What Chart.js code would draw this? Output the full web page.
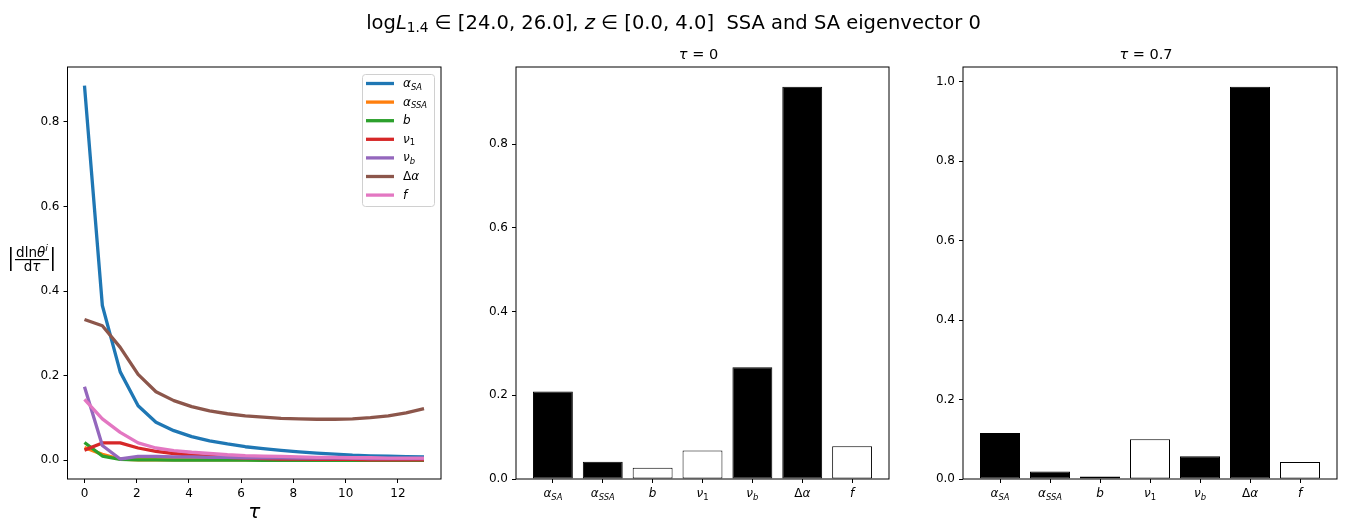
<!DOCTYPE html>
<html>
<head>
<meta charset="utf-8">
<script src="https://cdn.jsdelivr.net/npm/chart.js@4.4.0/dist/chart.umd.min.js"></script>
<style>
  body { margin: 0; background: #fff; }
  #fig { position: relative; width: 1347px; height: 522px; overflow: hidden; font-family: 'DejaVu Sans'; color: #000; }
  #fig canvas { position: absolute; left: 0; top: 0; }
  .t { position: absolute; white-space: nowrap; text-align: center; line-height: normal; }
  .t sub { font-size: 70%; vertical-align: -0.25em; line-height: 0; }
</style>
</head>
<body>
<div id="fig">
  <canvas id="lineChart" width="1347" height="522"></canvas>
  <canvas id="barTau0" width="1347" height="522"></canvas>
  <canvas id="barTau07" width="1347" height="522"></canvas>
  <div class="t" style="left:0;width:1347px;top:11px;font-size:19.5px">log<i>L</i><sub>1.4</sub> ∈ [24.0, 26.0], <i>z</i> ∈ [0.0, 4.0]&nbsp; SSA and SA eigenvector 0</div>
  <div class="t" style="left:512px;width:373px;top:46px;font-size:14.5px"><i>τ</i> = 0</div>
  <div class="t" style="left:959px;width:374px;top:46px;font-size:14.5px"><i>τ</i> = 0.7</div>
</div>
<script>
// parameter names, "_" marks the subscript
const paramKeys = ['α_SA', 'α_SSA', 'b', 'ν_1', 'ν_b', 'Δα', 'f'];
const lineColors = ['#1f77b4', '#ff7f0e', '#2ca02c', '#d62728', '#9467bd', '#8c564b', '#e377c2'];

// tau sampling of the left panel
const tauGrid = [0, 0.684, 1.368, 2.053, 2.737, 3.421, 4.105, 4.789, 5.474, 6.158,
  6.842, 7.526, 8.211, 8.895, 9.579, 10.263, 10.947, 11.632, 12.316, 13];

// |d ln theta / d tau| per parameter
const alphaSA  = [0.886, 0.366, 0.209, 0.129, 0.090, 0.070, 0.056, 0.046, 0.0385, 0.032, 0.0275, 0.0235, 0.020, 0.017, 0.0145, 0.012, 0.0105, 0.0095, 0.0085, 0.008];
const alphaSSA = [0.030, 0.014, 0.003, 0.001, 0.001, 0.001, 0.001, 0.001, 0.001, 0.001, 0.001, 0.001, 0.001, 0.001, 0.001, 0.001, 0.001, 0.001, 0.001, 0.001];
const bSlope   = [0.042, 0.010, 0.002, 0.001, 0.001, 0.0005, 0.0005, 0.0003, 0.0002, 0.0001, 0, 0, 0, 0, 0, 0, 0, 0, 0, 0];
const nu1      = [0.024, 0.041, 0.041, 0.029, 0.021, 0.016, 0.012, 0.009, 0.007, 0.005, 0.004, 0.003, 0.003, 0.002, 0.002, 0.002, 0.001, 0.001, 0.001, 0.001];
const nuB      = [0.174, 0.035, 0.003, 0.009, 0.009, 0.008, 0.008, 0.007, 0.007, 0.006, 0.006, 0.006, 0.005, 0.005, 0.005, 0.005, 0.004, 0.004, 0.004, 0.004];
const dAlpha   = [0.333, 0.318, 0.267, 0.203, 0.162, 0.141, 0.127, 0.117, 0.110, 0.105, 0.102, 0.099, 0.098, 0.097, 0.097, 0.098, 0.101, 0.105, 0.112, 0.122];
const fFrac    = [0.144, 0.098, 0.066, 0.041, 0.029, 0.023, 0.019, 0.016, 0.013, 0.011, 0.010, 0.009, 0.008, 0.007, 0.007, 0.006, 0.006, 0.005, 0.005, 0.005];
const lineSeries = [alphaSA, alphaSSA, bSlope, nu1, nuB, dAlpha, fFrac];

// eigenvector components (magnitude) and their sign
const vecTau0  = [0.209, 0.041, 0.027, 0.068, 0.267, 0.937, 0.078];
const signTau0 = [1, 1, -1, -1, 1, 1, -1];
const vecTau07  = [0.116, 0.019, 0.006, 0.100, 0.057, 0.987, 0.043];
const signTau07 = [1, 1, -1, -1, 1, 1, -1];

const lineXTicks = [0, 2, 4, 6, 8, 10, 12];
const lineYTicks = [0, 0.2, 0.4, 0.6, 0.8];
const tau0YTicks = [0, 0.2, 0.4, 0.6, 0.8];
const tau07YTicks = [0, 0.2, 0.4, 0.6, 0.8, 1.0];

const TICK_SIZE = 12;
Chart.defaults.font.family = 'DejaVu Sans';
Chart.defaults.font.size = TICK_SIZE;
Chart.defaults.color = '#000';

function richParts(key) {
  const [base, sub] = key.split('_');
  const parts = [];
  for (const ch of base) parts.push([ch, ch === 'Δ' ? 'r' : 'i']);
  if (sub) parts.push([sub, /^\d+$/.test(sub) ? 'sr' : 'si']);
  return parts;
}

// r roman, i italic, s* subscript, p* superscript
function drawRich(ctx, parts, x, y, size, align) {
  const fontFor = (st) => {
    const small = st[0] === 's' || st[0] === 'p';
    return (st.endsWith('i') ? 'italic ' : '') + (small ? size * 0.7 : size) + 'px "DejaVu Sans"';
  };
  let total = 0;
  const widths = parts.map(([t, st]) => {
    ctx.font = fontFor(st);
    const w = ctx.measureText(t).width;
    total += w;
    return w;
  });
  let cx = align === 'center' ? x - total / 2 : align === 'right' ? x - total : x;
  ctx.textAlign = 'left';
  ctx.textBaseline = 'alphabetic';
  parts.forEach(([t, st], i) => {
    ctx.font = fontFor(st);
    const dy = st[0] === 's' ? size * 0.22 : st[0] === 'p' ? -size * 0.38 : 0;
    ctx.fillText(t, cx, y + dy);
    cx += widths[i];
  });
}

const framePlugin = {
  id: 'frame',
  afterDraw(chart) {
    const { ctx, chartArea: a } = chart;
    ctx.save();
    ctx.strokeStyle = '#000';
    ctx.lineWidth = 1;
    ctx.strokeRect(a.left, a.top, a.right - a.left, a.bottom - a.top);
    ctx.restore();
  }
};

const categoryLabelPlugin = {
  id: 'catLabels',
  afterDraw(chart) {
    const { ctx, chartArea } = chart;
    const x = chart.scales.x;
    ctx.save();
    ctx.fillStyle = '#000';
    paramKeys.forEach((k, i) => {
      drawRich(ctx, richParts(k), x.getPixelForValue(i), chartArea.bottom + 18, TICK_SIZE, 'center');
    });
    ctx.restore();
  }
};

const lineDecoPlugin = {
  id: 'lineDeco',
  afterDraw(chart) {
    const { ctx, chartArea } = chart;
    ctx.save();
    // legend
    const lx = 362.5, ly = 74.5, lw = 72, lh = 132;
    ctx.beginPath();
    ctx.roundRect(lx, ly, lw, lh, 3);
    ctx.fillStyle = 'rgba(255,255,255,0.8)';
    ctx.fill();
    ctx.strokeStyle = '#d0d0d0';
    ctx.lineWidth = 1;
    ctx.stroke();
    paramKeys.forEach((k, i) => {
      const y = 83.5 + i * 18.6;
      ctx.strokeStyle = lineColors[i];
      ctx.lineWidth = 3.3;
      ctx.beginPath();
      ctx.moveTo(366, y);
      ctx.lineTo(394, y);
      ctx.stroke();
      ctx.fillStyle = '#000';
      drawRich(ctx, richParts(k), 403, y + 3.5, 12, 'left');
    });
    // x label
    ctx.fillStyle = '#000';
    drawRich(ctx, [['τ', 'i']], (chartArea.left + chartArea.right) / 2, 518, 20, 'center');
    // y label |d ln theta^i / d tau|
    const cx = 32;
    drawRich(ctx, [['dln', 'r'], ['θ', 'i'], ['i', 'pi']], cx, 256.5, 13.5, 'center');
    drawRich(ctx, [['d', 'r'], ['τ', 'i']], cx, 271, 13.5, 'center');
    ctx.fillRect(15, 259, 34, 1.2);
    ctx.fillRect(10, 247, 1.6, 24);
    ctx.fillRect(52, 247, 1.6, 24);
    ctx.restore();
  }
};

function fixedTicks(values) {
  return (scale) => { scale.ticks = values.map(v => ({ value: v })); };
}

function axisStyle(extra) {
  return Object.assign({
    grid: { display: true, drawOnChartArea: false, drawTicks: true, tickLength: 4, color: '#000', offset: false },
    border: { display: false }
  }, extra);
}

function makeLineChart() {
  const ctx = document.getElementById('lineChart').getContext('2d');
  return new Chart(ctx, {
    type: 'line',
    data: {
      datasets: lineSeries.map((s, i) => ({
        label: paramKeys[i],
        data: tauGrid.map((t, j) => ({ x: t, y: s[j] })),
        borderColor: lineColors[i],
        borderWidth: 3.3,
        pointRadius: 0,
        tension: 0,
        fill: false,
        borderJoinStyle: 'round',
        order: -i
      }))
    },
    options: {
      responsive: false,
      animation: false,
      layout: { padding: { left: 0, right: 1347 - 441, top: 67, bottom: 0 } },
      plugins: { legend: { display: false }, tooltip: { enabled: false } },
      scales: {
        x: axisStyle({
          type: 'linear', min: -0.65, max: 13.65,
          afterBuildTicks: fixedTicks(lineXTicks),
          afterFit: (s) => { s.height = 43; },
          ticks: { padding: 4, color: '#000', callback: v => String(v) }
        }),
        y: axisStyle({
          type: 'linear', min: -0.0443, max: 0.930,
          afterBuildTicks: fixedTicks(lineYTicks),
          afterFit: (s) => { s.width = 67.5; },
          ticks: { padding: 4, color: '#000', callback: v => v.toFixed(1) }
        })
      }
    },
    plugins: [framePlugin, lineDecoPlugin]
  });
}

function makeBarChart(id, values, signs, yMax, yTicks, left, yWidth, right) {
  const ctx = document.getElementById(id).getContext('2d');
  return new Chart(ctx, {
    type: 'bar',
    data: {
      datasets: [{
        data: values.map((v, i) => ({ x: i, y: v })),
        backgroundColor: signs.map(s => s > 0 ? '#000' : '#fff'),
        borderColor: '#000',
        borderWidth: 1,
        borderSkipped: false,
        categoryPercentage: 1,
        barPercentage: 0.8
      }]
    },
    options: {
      responsive: false,
      animation: false,
      layout: { padding: { left: left, right: right, top: 67, bottom: 0 } },
      plugins: { legend: { display: false }, tooltip: { enabled: false } },
      scales: {
        x: axisStyle({
          type: 'linear', min: -0.74, max: 6.74, offset: false,
          afterBuildTicks: fixedTicks([0, 1, 2, 3, 4, 5, 6]),
          afterFit: (s) => { s.height = 43; },
          ticks: { padding: 4, color: 'rgba(0,0,0,0)' }
        }),
        y: axisStyle({
          type: 'linear', min: 0, max: yMax,
          afterBuildTicks: fixedTicks(yTicks),
          afterFit: (s) => { s.width = yWidth; },
          ticks: { padding: 4, color: '#000', callback: v => v.toFixed(1) }
        })
      }
    },
    plugins: [framePlugin, categoryLabelPlugin]
  });
}

makeLineChart();
makeBarChart('barTau0', vecTau0, signTau0, 0.984, tau0YTicks, 456, 60, 1347 - 889);
makeBarChart('barTau07', vecTau07, signTau07, 1.037, tau07YTicks, 903, 60, 1347 - 1337);
</script>
</body>
</html>
